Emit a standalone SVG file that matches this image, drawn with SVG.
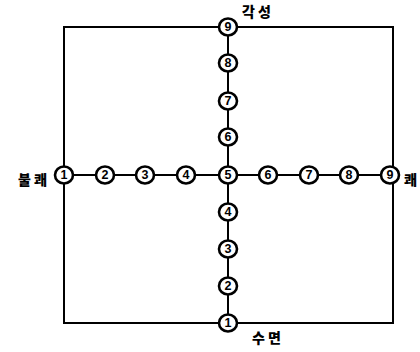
<svg xmlns="http://www.w3.org/2000/svg" width="420" height="352" viewBox="0 0 420 352">
<style>
.frame{fill:none;stroke:#000;stroke-width:2}
.axis{stroke:#000;stroke-width:2}
.node ellipse{fill:#fff;stroke:#000;stroke-width:2.6}
.node text{font-family:"Liberation Sans",Arial,sans-serif;font-weight:bold;font-size:12.5px;text-anchor:middle;dominant-baseline:central;fill:#000}
.lbl{font-family:"Noto Sans CJK KR","Noto Sans",sans-serif;font-weight:900;font-size:14px;letter-spacing:3px;fill:#000}
</style>
<rect width="420" height="352" fill="#fff"/>
<g id="connectors">
<rect class="frame" x="64" y="27" width="329" height="296"/>
<line class="axis" x1="64" y1="175" x2="393" y2="175"/>
<line class="axis" x1="228" y1="27" x2="228" y2="323"/>
</g>
<g id="h1" class="node"><ellipse cx="64" cy="175" rx="9" ry="8.5"/><text x="64" y="175">1</text></g>
<g id="h2" class="node"><ellipse cx="105" cy="175" rx="9" ry="8.5"/><text x="105" y="175">2</text></g>
<g id="h3" class="node"><ellipse cx="145" cy="175" rx="9" ry="8.5"/><text x="145" y="175">3</text></g>
<g id="h4" class="node"><ellipse cx="186" cy="175" rx="9" ry="8.5"/><text x="186" y="175">4</text></g>
<g id="c5" class="node"><ellipse cx="228" cy="175" rx="9" ry="8.5"/><text x="228" y="175">5</text></g>
<g id="h6" class="node"><ellipse cx="268" cy="175" rx="9" ry="8.5"/><text x="268" y="175">6</text></g>
<g id="h7" class="node"><ellipse cx="309" cy="175" rx="9" ry="8.5"/><text x="309" y="175">7</text></g>
<g id="h8" class="node"><ellipse cx="349" cy="175" rx="9" ry="8.5"/><text x="349" y="175">8</text></g>
<g id="h9" class="node"><ellipse cx="390" cy="175" rx="9" ry="8.5"/><text x="390" y="175">9</text></g>
<g id="v9" class="node"><ellipse cx="228" cy="27" rx="9" ry="8.5"/><text x="228" y="27">9</text></g>
<g id="v8" class="node"><ellipse cx="228" cy="63" rx="9" ry="8.5"/><text x="228" y="63">8</text></g>
<g id="v7" class="node"><ellipse cx="228" cy="101" rx="9" ry="8.5"/><text x="228" y="101">7</text></g>
<g id="v6" class="node"><ellipse cx="228" cy="137" rx="9" ry="8.5"/><text x="228" y="137">6</text></g>
<g id="v4" class="node"><ellipse cx="228" cy="212" rx="9" ry="8.5"/><text x="228" y="212">4</text></g>
<g id="v3" class="node"><ellipse cx="228" cy="249" rx="9" ry="8.5"/><text x="228" y="249">3</text></g>
<g id="v2" class="node"><ellipse cx="228" cy="286" rx="9" ry="8.5"/><text x="228" y="286">2</text></g>
<g id="v1" class="node"><ellipse cx="228" cy="323" rx="9" ry="8.5"/><text x="228" y="323">1</text></g>
<text class="lbl" x="242" y="17">각성</text>
<text class="lbl" x="252" y="343">수면</text>
<text class="lbl" x="18" y="185">불쾌</text>
<text class="lbl" x="404" y="185" style="letter-spacing:0">쾌</text>
</svg>
